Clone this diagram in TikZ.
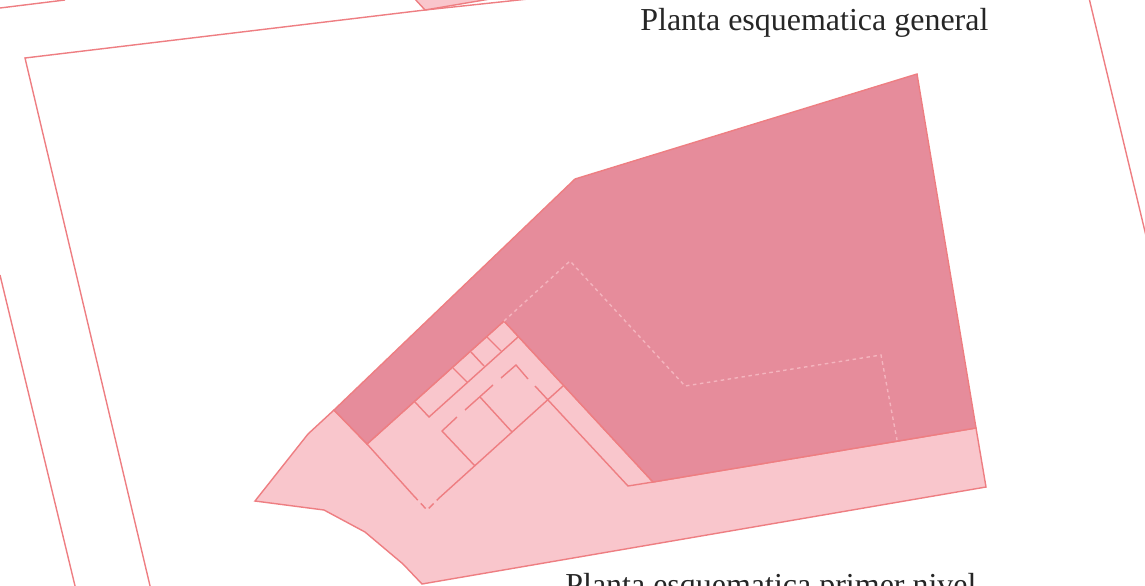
\documentclass[tikz,border=0pt]{standalone}
\usepackage{fontspec}
\setmainfont{Liberation Serif}
\definecolor{darkzone}{HTML}{E68C9B}
\definecolor{lightzone}{HTML}{F9C6CC}
\definecolor{wallline}{HTML}{EE7E82}
\definecolor{dotline}{HTML}{F4B4BE}
\tikzset{
    wall/.style={wallline, line width=0.8pt},
    dotwall/.style={dotline, line width=0.8pt, dash pattern=on 2pt off 2pt},
    title/.style={inner sep=0pt, anchor=base west, font=\fontsize{18.2pt}{21pt}\selectfont, text=black!85}
}

\begin{document}
\begin{tikzpicture}[x=0.02cm,y=-0.02cm]
    \useasboundingbox (0,0) rectangle (1145,585);
    \clip (0,0) rectangle (1145,585);

    % Draw the site limits
    \draw[wall] (151,590) -- (25,58) -- (425,10) -- (547,-3);
    \draw[wall] (76,590) -- (0,275);
    \draw[wall] (0,8) -- (65,0);
    \draw[wall] (1089,-2) -- (1147,240);

    % Draw the zone at the top
    \draw[wall, fill=lightzone] (414,-2) -- (425,10) -- (496,-2);

    % Draw the two zones
    \draw[wall, fill=lightzone] (255,501) -- (308,434) -- (334,410) -- (367,444) -- (504,321)
        -- (653,482) -- (976,428) -- (986,487) -- (422,584) -- (403,564) -- (365,532) -- (324,510) -- cycle;
    \draw[wall, fill=darkzone] (334,410) -- (575,179) -- (917,74) -- (976,428) -- (653,482)
        -- (504,321) -- (367,444) -- cycle;

    % Draw the dotted line of the upper level
    \draw[dotwall] (504,321) -- (570,261) -- (685,386) -- (881,355) -- (897,440);

    % Draw the walls of the rooms
    \draw[wall] (367,444) -- (413,495);
    \draw[wall, dash pattern=on 4pt off 2.5pt] (413,495) -- (427,510) -- (438,499);
    \draw[wall] (438,499) -- (563,386);
    \draw[wall] (415,402) -- (429,417) -- (518,337);
    \draw[wall] (453,368) -- (467,382);
    \draw[wall] (471,352) -- (484,366);
    \draw[wall] (487,337) -- (501,351);
    \draw[wall] (457,417) -- (442,431) -- (475,466);
    \draw[wall] (465,410) -- (493,385);
    \draw[wall] (501,378) -- (516,365) -- (528,379);
    \draw[wall] (535,386) -- (628,486) -- (653,482);
    \draw[wall] (480,397) -- (512,432);

    % Add titles
    \node[title] (generaltitle) at (640,30) {Planta esquematica general};
    \node[title] (leveltitle) at (565,595) {Planta esquematica primer nivel};
\end{tikzpicture}
\end{document}
